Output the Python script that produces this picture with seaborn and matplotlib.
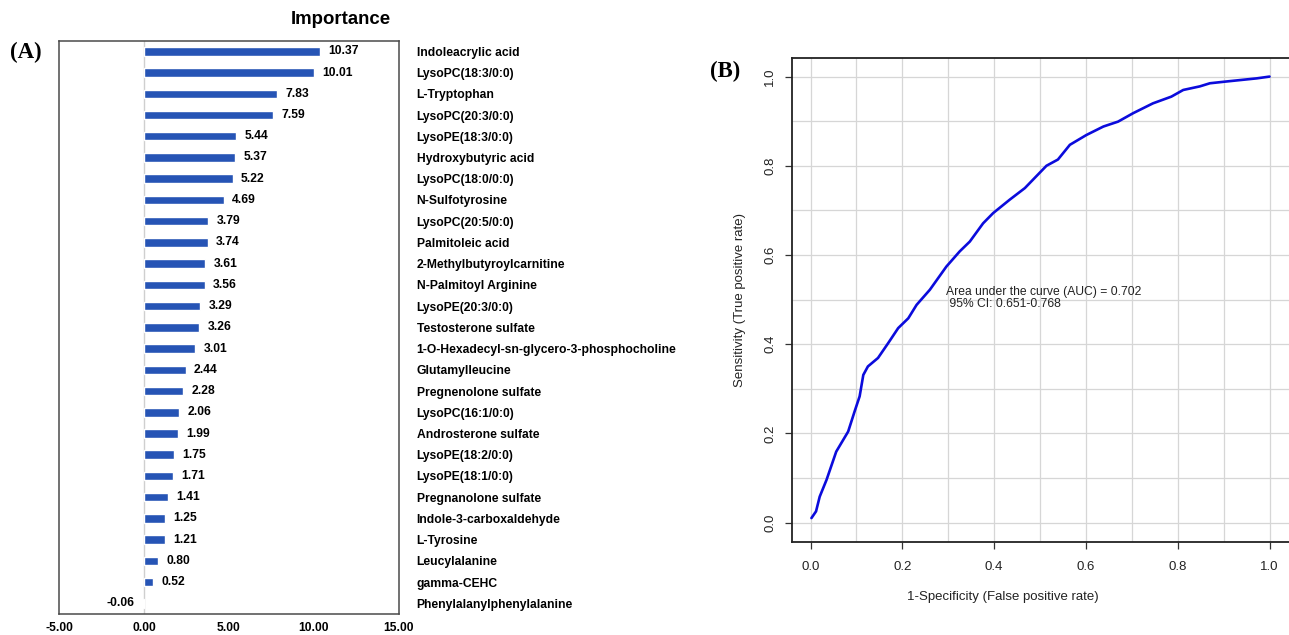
import matplotlib
matplotlib.use("Agg")
import pandas as pd
import seaborn as sns
import matplotlib.pyplot as plt

# panel A: feature importance
names = ["Indoleacrylic acid", "LysoPC(18:3/0:0)", "L-Tryptophan", "LysoPC(20:3/0:0)",
         "LysoPE(18:3/0:0)", "Hydroxybutyric acid", "LysoPC(18:0/0:0)", "N-Sulfotyrosine",
         "LysoPC(20:5/0:0)", "Palmitoleic acid", "2-Methylbutyroylcarnitine",
         "N-Palmitoyl Arginine", "LysoPE(20:3/0:0)", "Testosterone sulfate",
         "1-O-Hexadecyl-sn-glycero-3-phosphocholine", "Glutamylleucine",
         "Pregnenolone sulfate", "LysoPC(16:1/0:0)", "Androsterone sulfate",
         "LysoPE(18:2/0:0)", "LysoPE(18:1/0:0)", "Pregnanolone sulfate",
         "Indole-3-carboxaldehyde", "L-Tyrosine", "Leucylalanine", "gamma-CEHC",
         "Phenylalanylphenylalanine"]
importance = [10.37, 10.01, 7.83, 7.59, 5.44, 5.37, 5.22, 4.69, 3.79, 3.74, 3.61, 3.56,
              3.29, 3.26, 3.01, 2.44, 2.28, 2.06, 1.99, 1.75, 1.71, 1.41, 1.25, 1.21,
              0.80, 0.52, -0.06]
imp_ticks = [-5, 0, 5, 10, 15]

# panel B: ROC curve
fpr = [0.002, 0.012, 0.02, 0.035, 0.056, 0.082, 0.096, 0.107, 0.115, 0.125, 0.147, 0.169,
       0.191, 0.213, 0.231, 0.26, 0.296, 0.325, 0.347, 0.376, 0.398, 0.434, 0.467, 0.514,
       0.539, 0.565, 0.601, 0.638, 0.67, 0.703, 0.746, 0.786, 0.812, 0.848, 0.87, 0.906,
       0.972, 1.0]
tpr = [0.01, 0.025, 0.058, 0.096, 0.159, 0.204, 0.249, 0.283, 0.331, 0.35, 0.369, 0.402,
       0.436, 0.458, 0.488, 0.522, 0.574, 0.608, 0.63, 0.671, 0.694, 0.724, 0.75, 0.80,
       0.814, 0.847, 0.869, 0.888, 0.899, 0.918, 0.94, 0.955, 0.97, 0.978, 0.985, 0.989,
       0.996, 1.0]
roc_ticks = [0.0, 0.2, 0.4, 0.6, 0.8, 1.0]
auc_text = "Area under the curve (AUC) = 0.702\n 95% CI: 0.651-0.768"

sns.set_style("white")
plt.rcParams["font.family"] = ["Liberation Sans", "DejaVu Sans"]
plt.rcParams["text.color"] = "black"
plt.rcParams["xtick.color"] = "black"
plt.rcParams["ytick.color"] = "black"

fig = plt.figure(figsize=(12.89, 6.35), dpi=100)

# ---- (A) importance bars
ax1 = fig.add_axes([0.046, 0.0331, 0.2633, 0.9028])
imp_df = pd.DataFrame({"name": names, "importance": importance})
sns.barplot(data=imp_df, x="importance", y="name", orient="h", color="#2654b5",
            width=0.4, saturation=1, ax=ax1)
ax1.axvline(0, color="#cfcfcf", lw=1, zorder=0)
ax1.set_xlim(-5, 15)
ax1.set_xticks(imp_ticks)
ax1.set_xticklabels([f"{t:.2f}" for t in imp_ticks], fontsize=8.7, fontweight="bold")
ax1.yaxis.tick_right()
ax1.tick_params(axis="y", length=0, pad=13, labelsize=8.7)
ax1.tick_params(axis="x", length=0, pad=6)
for lab in ax1.get_yticklabels():
    lab.set_fontweight("bold")
ax1.set_xlabel("")
ax1.set_ylabel("")
for s in ax1.spines.values():
    s.set_color("#4a4a4a")
    s.set_linewidth(1.1)
for i, v in enumerate(importance):
    off = 6 if v >= 0 else -6
    ax1.annotate(f"{v:.2f}", (v, i), xytext=(off, 0), textcoords="offset points",
                 ha="left" if v >= 0 else "right", va="center",
                 fontsize=8.7, fontweight="bold")
fig.text(341 / 1289, 1 - 19 / 635, "Importance", ha="center", va="center",
         fontsize=13.4, fontweight="bold")
fig.text(10 / 1289, 1 - 52 / 635, "(A)", ha="left", va="center", fontsize=16.5,
         fontweight="bold", family="Liberation Serif")

# ---- (B) ROC curve
ax2 = fig.add_axes([791.7 / 1289, 1 - 541.7 / 635, 498.5 / 1289, 483.4 / 635])
roc_df = pd.DataFrame({"fpr": fpr, "tpr": tpr})
sns.lineplot(data=roc_df, x="fpr", y="tpr", sort=False, color="#0b0bdc", lw=1.9, ax=ax2)
ax2.set_xlim(-0.041, 1.045)
ax2.set_ylim(-0.043, 1.041)
for g in [i / 10 for i in range(11)]:
    ax2.axvline(g, color="#d6d6d6", lw=0.9, zorder=0)
    ax2.axhline(g, color="#d6d6d6", lw=0.9, zorder=0)
ax2.set_xticks(roc_ticks)
ax2.set_yticks(roc_ticks)
ax2.set_xticklabels([f"{t:.1f}" for t in roc_ticks])
ax2.set_yticklabels([f"{t:.1f}" for t in roc_ticks], rotation=90, va="center")
ax2.tick_params(axis="both", direction="out", length=5, width=0.9, color="#333333",
                labelsize=9.5, labelcolor="#222222", left=True, bottom=True)
ax2.tick_params(axis="x", pad=9)
ax2.tick_params(axis="y", pad=6)
for s in ax2.spines.values():
    s.set_color("#222222")
    s.set_linewidth(1.3)
ax2.set_xlabel("1-Specificity (False positive rate)", fontsize=9.5, color="#222222")
ax2.set_ylabel("Sensitivity (True positive rate)", fontsize=9.5, color="#222222")
ax2.xaxis.label.set_va("center")
ax2.yaxis.label.set_va("center")
ax2.xaxis.set_label_coords(0.423, -0.114)
ax2.yaxis.set_label_coords(-0.104, 0.5)
ax2.text(0.296, 0.503, auc_text, ha="left", va="center", fontsize=8.7,
         color="#222222", linespacing=1.05)
fig.text(710 / 1289, 1 - 71 / 635, "(B)", ha="left", va="center", fontsize=16.5,
         fontweight="bold", family="Liberation Serif")

fig.savefig("out.png", dpi=100)
